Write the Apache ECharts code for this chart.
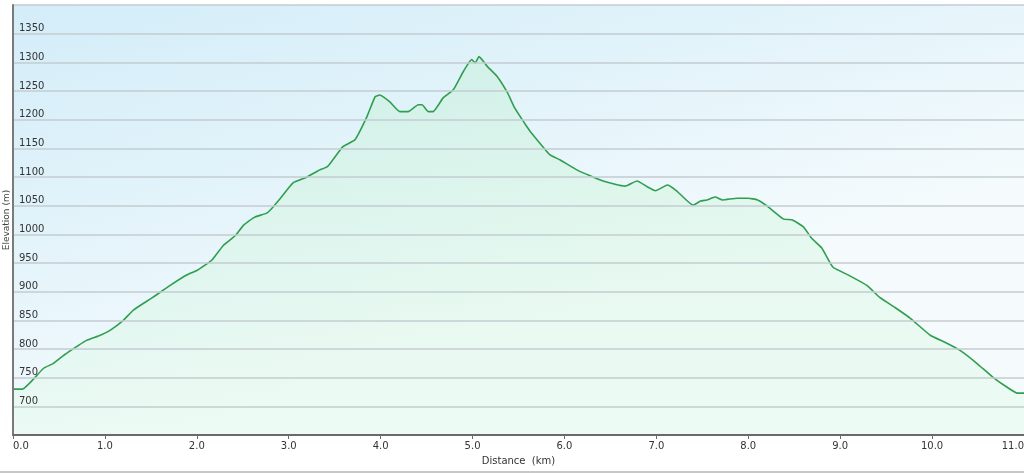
<!DOCTYPE html>
<html>
<head>
<meta charset="utf-8">
<script src="https://cdn.jsdelivr.net/npm/echarts@6/dist/echarts.min.js"></script>
<style>
html,body{margin:0;padding:0;background:#fff;}
#c{width:1024px;height:474px;}
</style>
</head>
<body>
<div id="c"></div>
<script>
const distanceKm = [0.00,0.10,0.33,0.44,0.56,0.70,0.80,0.95,1.06,1.20,1.31,1.52,1.71,1.89,2.00,2.14,2.17,2.29,2.42,2.51,2.63,2.76,2.82,2.91,3.05,3.20,3.32,3.42,3.48,3.59,3.72,3.85,3.94,3.99,4.10,4.21,4.30,4.41,4.45,4.52,4.57,4.68,4.79,4.90,4.99,5.03,5.07,5.16,5.27,5.38,5.46,5.59,5.63,5.84,5.95,6.14,6.42,6.66,6.79,6.90,6.99,7.12,7.22,7.40,7.48,7.55,7.64,7.72,7.88,8.00,8.10,8.20,8.38,8.48,8.60,8.69,8.80,8.92,9.10,9.29,9.43,9.60,9.76,9.98,10.15,10.30,10.48,10.66,10.80,10.93,11.00];
const elevationM = [730,730,766,775,790,805,815,824,833,850,868,890,911,929,937,952,956,981,998,1016,1030,1037,1046,1063,1090,1100,1111,1118,1130,1153,1165,1205,1240,1243,1231,1214,1214,1226,1226,1214,1214,1238,1252,1284,1305,1299,1310,1293,1275,1247,1220,1188,1179,1139,1130,1112,1093,1084,1093,1083,1076,1086,1076,1051,1058,1060,1065,1060,1063,1063,1060,1050,1027,1025,1013,993,976,943,928,911,890,872,854,824,811,798,776,751,735,723,723];
const yTicks = {min:650, max:1400, step:50};
const xTicks = {min:0, max:11, step:1};

const chart = echarts.init(document.getElementById('c'));
const font = 'DejaVu Sans, Verdana, sans-serif';
chart.setOption({
  animation:false,
  grid:{left:13,right:0,top:5,bottom:39,show:true,borderWidth:0,outerBoundsMode:'none',containLabel:false,
    backgroundColor:new echarts.graphic.LinearGradient(0,0,0.12,1,[
      {offset:0,color:'#d3edf9'},{offset:0.5,color:'#e2f3fa'},{offset:1,color:'#f5fbfd'}])},
  xAxis:{type:'value',min:xTicks.min,max:xTicks.max,interval:xTicks.step,z:5,
    name:'Distance  (km)',nameLocation:'middle',nameGap:21,nameMoveOverlap:false,
    nameTextStyle:{fontFamily:font,fontSize:10,color:'#333'},
    axisLine:{show:true,onZero:false,lineStyle:{color:'#6a6a6a',width:2}},
    axisTick:{show:true,length:4,lineStyle:{color:'#6a6a6a'}},
    splitLine:{show:false},
    axisLabel:{fontFamily:font,fontSize:10,color:'#333',margin:6,
      formatter:v=>v.toFixed(1),alignMinLabel:'left',alignMaxLabel:'right'}},
  yAxis:{type:'value',min:yTicks.min,max:yTicks.max,interval:yTicks.step,z:5,
    name:'Elevation (m)',nameLocation:'middle',nameGap:2,nameMoveOverlap:false,
    nameTextStyle:{fontFamily:font,fontSize:9,color:'#444'},
    axisLine:{show:true,lineStyle:{color:'#7a7a7a',width:2}},
    axisTick:{show:false},
    splitLine:{show:true,lineStyle:{color:'#c3ccd0',width:1.5}},
    axisLabel:{inside:true,showMinLabel:false,showMaxLabel:false,fontFamily:font,fontSize:10,color:'#333',
      margin:6,verticalAlign:'bottom',lineHeight:10,formatter:v=>String(v)}},
  series:[{type:'line',data:distanceKm.map((d,i)=>[d,elevationM[i]]),z:2,
    showSymbol:false,smooth:0.15,
    lineStyle:{color:'#2f9f4f',width:1.6},
    areaStyle:{origin:'start',color:new echarts.graphic.LinearGradient(0,0,0,1,[
      {offset:0,color:'rgba(190,240,205,0.55)'},{offset:1,color:'rgba(225,250,232,0.6)'}])}}],
  graphic:[{type:'line',shape:{x1:0,y1:472,x2:1024,y2:472},style:{stroke:'#c8c8c8',lineWidth:2}}]
});
</script>
</body>
</html>
